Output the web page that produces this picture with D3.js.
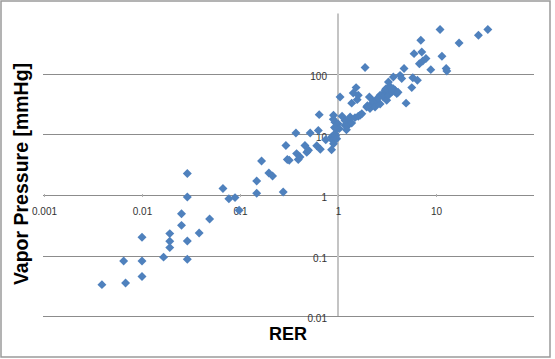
<!DOCTYPE html>
<html>
<head>
<meta charset="utf-8">
<script src="https://cdn.jsdelivr.net/npm/d3@7"></script>
<style>
  html, body { margin: 0; padding: 0; background: #fff; }
  svg { display: block; }
</style>
</head>
<body>
<svg id="chart" width="555" height="359"></svg>
<script>
// RER values (x) and vapor pressure values in mmHg (y)
const rer = [
  0.0039, 0.0065, 0.0068, 0.010, 0.010, 0.010, 0.0166, 0.0192, 0.0192, 0.0192,
  0.0253, 0.0253, 0.029, 0.029, 0.029, 0.029, 0.0383, 0.049, 0.067, 0.077,
  0.089, 0.098, 0.148, 0.148, 0.166, 0.197, 0.215, 0.276, 0.294, 0.304,
  0.318, 0.372, 0.378, 0.393, 0.41, 0.46, 0.48, 0.50, 0.52, 0.607,
  0.63, 0.643, 0.66, 0.75, 0.86, 0.86, 0.88, 0.90, 0.90, 0.93,
  0.93, 0.895, 0.97, 1.0, 1.03, 1.05, 1.18, 1.18, 1.27, 1.31,
  1.33, 1.38, 1.38, 1.43, 1.49, 1.53, 1.57, 1.61, 1.61, 1.68,
  1.75, 1.89, 1.96, 2.09, 2.12, 2.21, 2.29, 2.39, 2.48, 2.69,
  2.69, 2.9, 2.9, 3.02, 3.09, 3.14, 3.27, 3.27, 3.53, 3.67,
  3.67, 3.82, 3.98, 4.3, 4.47, 4.72, 4.95, 5.66, 5.8, 5.97,
  6.46, 6.77, 7.0, 7.16, 7.33, 7.9, 8.85, 11.0, 11.5, 12.7,
  12.9, 17.2, 27.1, 33.8, 3.4, 3.75, 4.1, 2.55, 1.22, 0.95,
  0.97, 0.92, 1.1, 2.0
];
const vaporPressure = [
  0.033, 0.081, 0.035, 0.20, 0.081, 0.045, 0.094, 0.23, 0.172, 0.135,
  0.49, 0.315, 2.26, 0.93, 0.174, 0.0865, 0.235, 0.40, 1.28, 0.87,
  0.905, 0.56, 1.70, 1.07, 3.65, 2.31, 2.06, 1.12, 6.6, 3.85,
  3.74, 10.6, 4.83, 3.85, 4.25, 6.6, 5.1, 5.5, 10.6, 6.5,
  11.7, 21.3, 5.7, 8.2, 5.6, 9.1, 8.0, 7.0, 20.8, 16,
  10.3, 17.8, 12.5, 15, 12.5, 41.7, 14.2, 17, 14.2, 18.3,
  19.5, 15.5, 33, 48.5, 19, 59.6, 37.7, 20, 44.5, 20.8,
  22.1, 128, 28.5, 41.7, 26.8, 32, 35.4, 28.5, 36.7, 44.5,
  32, 47.4, 41.7, 53.8, 57, 36.7, 73.8, 44.5, 50.5, 89,
  57, 53.8, 47.4, 95, 84, 123, 33, 59.6, 87, 217,
  78.7, 148, 360, 231, 164, 180, 118, 542, 196, 123,
  112, 326, 436, 542, 62, 52, 50, 40, 12, 9.5,
  8.5, 13, 20, 30
];
const xTicks = [0.001, 0.01, 0.1, 1, 10];
const yTicks = [0.01, 0.1, 1, 10, 100];
const xTitle = "RER";
const yTitle = "Vapor Pressure [mmHg]";

const points = rer.map((r, i) => ({ x: r, y: vaporPressure[i] }));

const svg = d3.select("#chart");
const font = "'Liberation Sans', Arial, sans-serif";

// outer border
svg.append("rect")
  .attr("x", 1).attr("y", 1).attr("width", 549).attr("height", 356)
  .attr("fill", "#fff").attr("stroke", "#9a9a9a").attr("stroke-width", 1.5);

const x = d3.scaleLog().domain([0.001, 100]).range([44, 534]);
const y = d3.scaleLog().domain([0.01, 1000]).range([316, 13.5]);

// horizontal gridlines
svg.append("g").selectAll("line").data(yTicks).join("line")
  .attr("x1", x(0.001) - 1).attr("x2", x(100))
  .attr("y1", d => Math.round(y(d)) + 0.5).attr("y2", d => Math.round(y(d)) + 0.5)
  .attr("stroke", "#8c8c8c").attr("stroke-width", 1);

// vertical axis line at x = 1
svg.append("line")
  .attr("x1", x(1)).attr("x2", x(1))
  .attr("y1", y(1000)).attr("y2", y(0.01))
  .attr("stroke", "#c4c4c4").attr("stroke-width", 2);

// x axis (crossing at y = 1)
const xAxis = d3.axisBottom(x).tickValues(xTicks).tickFormat(d => String(d))
  .tickSize(3).tickPadding(11);
const gx = svg.append("g")
  .attr("transform", `translate(0,${Math.round(y(1)) - 1})`)
  .call(xAxis);
gx.select(".domain").remove();
gx.selectAll(".tick line").attr("stroke", "#b0b0b0");
gx.selectAll(".tick text").attr("fill", "#333").style("font", `10px ${font}`);

// y axis (crossing at x = 1)
const yAxis = d3.axisLeft(y).tickValues(yTicks).tickFormat(d => String(d))
  .tickSize(0).tickPadding(11);
const gy = svg.append("g")
  .attr("transform", `translate(${x(1)},0)`)
  .call(yAxis);
gy.select(".domain").remove();
gy.selectAll(".tick text").attr("fill", "#333").attr("dy", "0.55em")
  .style("font", `10px ${font}`);

// markers
const diamond = d3.symbol().type(d3.symbolSquare).size(40);
svg.append("g").selectAll("path").data(points).join("path")
  .attr("d", diamond)
  .attr("transform", d => `translate(${x(d.x)},${y(d.y)}) rotate(45)`)
  .attr("fill", "#4f81bd");

// axis titles
svg.append("text")
  .attr("x", 288).attr("y", 340)
  .attr("text-anchor", "middle")
  .style("font", `bold 18px ${font}`).attr("fill", "#000")
  .text(xTitle);

svg.append("text")
  .attr("transform", "translate(28,174) rotate(-90)")
  .attr("text-anchor", "middle")
  .style("font", `bold 19.5px ${font}`).attr("fill", "#000")
  .text(yTitle);
</script>
</body>
</html>
